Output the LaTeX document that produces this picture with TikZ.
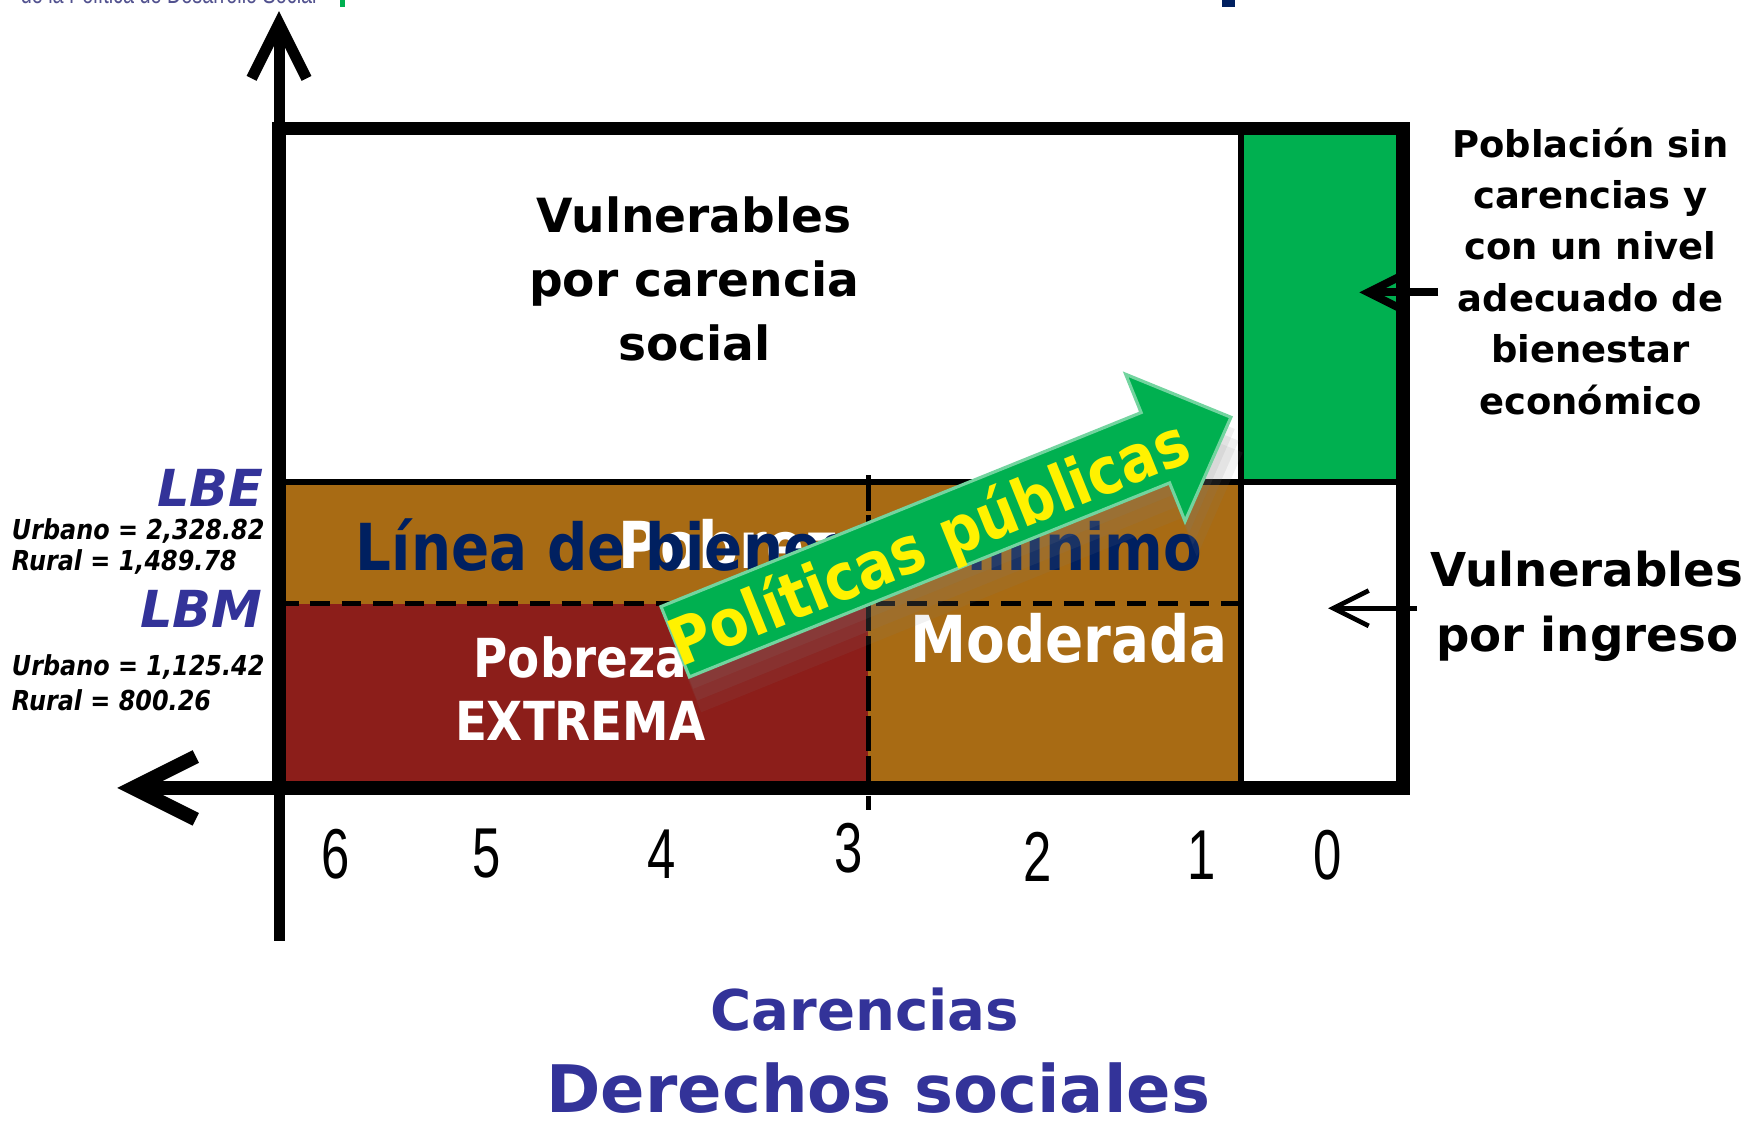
\documentclass[tikz,border=0pt]{standalone}
\usepackage{fontspec}
\setmainfont{DejaVu Sans}
\newfontfamily\tahoma[FakeStretch=0.87]{DejaVu Sans}
\newfontfamily\angosta[FakeStretch=0.72]{Liberation Sans}
\usetikzlibrary{arrows.meta,shadows}

\definecolor{cafe}{RGB}{168,107,20}
\definecolor{vino}{RGB}{140,30,26}
\definecolor{verde}{RGB}{0,176,80}
\definecolor{marino}{RGB}{0,32,96}
\definecolor{azul}{RGB}{51,51,153}

\tikzset{
  eje/.style={line width=2.8pt},
  borde/.style={line width=3.4pt},
  guia/.style={line width=1.7pt},
  corte/.style={line width=1.3pt, dash pattern=on 5pt off 3pt},
  num/.style={font=\angosta\fontsize{18}{18}\selectfont},
  blanco/.style={text=white, font=\tahoma\bfseries\fontsize{16.5}{19}\selectfont},
  nota/.style={font=\bfseries\itshape\tahoma\fontsize{7}{8}\selectfont, anchor=west, inner sep=0pt},
  linea/.style={font=\bfseries\itshape\fontsize{13}{14}\selectfont, text=azul, anchor=east, inner sep=0pt},
  senal/.style={-{Straight Barb[length=9pt,width=9pt]}},
}

\begin{document}
\begin{tikzpicture}[x=0.01cm, y=-0.01cm]
  \useasboundingbox (0,0) rectangle (1568,1006);

  % encabezado recortado
  \node[font=\angosta\fontsize{7}{8}\selectfont, text=azul!60!gray, anchor=base west, inner sep=0pt] (enc) at (18,3) {de la Política de Desarrollo Social};
  \fill[verde] (305,0) rectangle (309,6);
  \fill[marino] (1095,0) rectangle (1107,6);

  % regiones
  \fill[cafe] (250,432) rectangle (1112,706);
  \fill[vino] (250,541) rectangle (778,706);
  \fill[verde] (1112,115) rectangle (1257,432);

  \draw[guia] (250,432) -- (1257,432);
  \draw[guia] (1112,115) -- (1112,706);
  \draw[corte] (250,541) -- (1112,541);
  \draw[corte, dash pattern=on 9pt off 1.2pt] (778,426) -- (778,726);
  \draw[borde] (250,115) rectangle (1257,706);

  % ejes
  \coordinate (o) at (250,706);
  \coordinate (arriba) at (250,10);
  \coordinate (abajo) at (250,843);
  \coordinate (izq) at (105,706);
  \coordinate (der) at (1257,706);
  \draw[eje, -{Straight Barb[length=14pt,width=14pt]}] (abajo) -- (arriba);
  \draw[eje, line width=3.6pt, -{Straight Barb[length=16pt,width=16pt]}] (der) -- (izq);

  % textos de las regiones
  \node[align=center, font=\bfseries\fontsize{12}{16.2}\selectfont] (vcs) at (622,250) {Vulnerables\\por carencia\\social};
  \node[blanco, anchor=west] (pm) at (542,488) {Pobreza};
  \node[text=marino, font=\tahoma\bfseries\fontsize{16.5}{19}\selectfont] (lbm) at (698,488) {Línea de bienestar mínimo};
  \node[blanco, align=center, font=\tahoma\bfseries\fontsize{13.7}{16.2}\selectfont] (pe) at (520,617) {Pobreza\\EXTREMA};
  \node[blanco] (mod) at (958,572) {Moderada};

  % flecha de politicas
  \begin{scope}[shift={(605,575)}, rotate=22]
    \filldraw[fill=verde, draw=verde!55!white, line width=0.8pt,
      drop shadow={opacity=0.12, shadow xshift=1pt, shadow yshift=-3pt},
      drop shadow={opacity=0.12, shadow xshift=2pt, shadow yshift=-6pt},
      drop shadow={opacity=0.1, shadow xshift=3pt, shadow yshift=-9pt}]
      (0,-34) -- (464,-34) -- (464,-71) -- (537,0) -- (464,71) -- (464,34) -- (0,34) -- cycle;
    \node[rotate=22, text=yellow, font=\tahoma\bfseries\fontsize{16.5}{19}\selectfont] (pp) at (244,6) {Políticas públicas};
  \end{scope}

  % lado derecho
  \node[align=center, font=\bfseries\fontsize{9.4}{13.1}\selectfont] (psc) at (1425,243) {Población sin\\carencias y\\con un nivel\\adecuado de\\bienestar\\económico};
  \node[align=center, font=\bfseries\fontsize{11.9}{16.5}\selectfont] (vpi) at (1422,543) {Vulnerables\\por ingreso};
  \coordinate (pv) at (1218,262);
  \coordinate (qi) at (1190,545);
  \draw[line width=2pt, senal] (psc.west |- pv) -- (pv);
  \draw[line width=1.2pt, senal] (vpi.west |- qi) -- (qi);

  % lineas de bienestar
  \node[linea] (lbe) at (237,437) {LBE};
  \node[nota] (u1) at (10,476) {Urbano = 2,328.82};
  \node[nota] (r1) at (10,504) {Rural = 1,489.78};
  \node[linea] (lbmz) at (236,546) {LBM};
  \node[nota] (u2) at (10,598) {Urbano = 1,125.42};
  \node[nota] (r2) at (10,627) {Rural = 800.26};

  % numero de carencias
  \foreach \n/\x/\y in {6/301/765, 5/436/765, 4/593/765, 3/760/760, 2/930/768, 1/1077/766, 0/1190/766}
    \node[num] (n\n) at (\x,\y) {\n};

  % pie
  \node[text=azul, font=\bfseries\fontsize{14.3}{16}\selectfont] (car) at (775,905) {Carencias};
  \node[text=azul, font=\bfseries\fontsize{16.7}{19}\selectfont] (ds) at (787,975) {Derechos sociales};
\end{tikzpicture}
\end{document}
